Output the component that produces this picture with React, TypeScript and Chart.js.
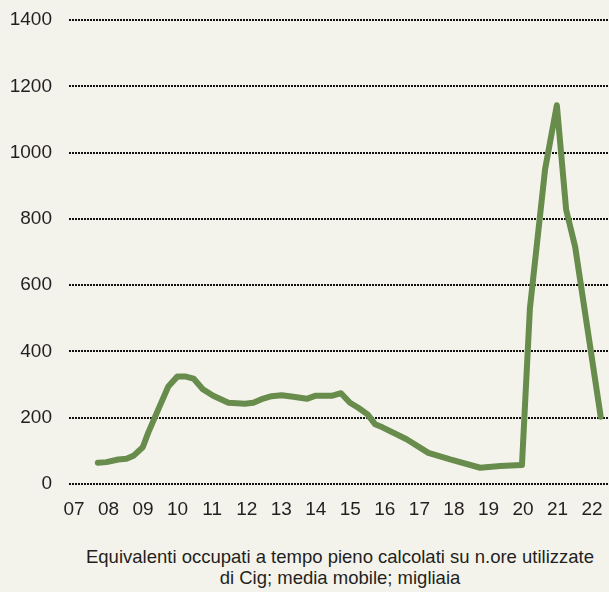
import React, { useEffect, useRef } from "react";
import { Chart, registerables } from "chart.js";

Chart.register(...registerables);

const tickYears = [2007, 2008, 2009, 2010, 2011, 2012, 2013, 2014, 2015, 2016, 2017, 2018, 2019, 2020, 2021, 2022];
const tickLabels = ["07", "08", "09", "10", "11", "12", "13", "14", "15", "16", "17", "18", "19", "20", "21", "22"];

const seriesX = [
  2007.69, 2007.94, 2008.28, 2008.52, 2008.72, 2008.99, 2009.15, 2009.39, 2009.73, 2009.99,
  2010.24, 2010.46, 2010.73, 2011.03, 2011.47, 2011.95, 2012.19, 2012.43, 2012.72, 2013.01,
  2013.35, 2013.74, 2013.98, 2014.46, 2014.73, 2014.99, 2015.23, 2015.5, 2015.72, 2015.93,
  2016.63, 2017.26, 2017.89, 2018.76, 2019.34, 2019.97, 2020.2, 2020.64, 2020.98, 2021.25,
  2021.51, 2022.25,
];
const seriesValues = [
  64, 66, 74, 76, 85, 111, 155, 213, 294, 324,
  324, 318, 286, 266, 245, 242, 245, 256, 265, 268,
  263, 257, 266, 266, 274, 245, 230, 210, 180, 171,
  135, 94, 74, 49, 54, 57, 530, 950, 1143, 827,
  716, 203,
];

const captionLines = [
  "Equivalenti occupati a tempo pieno calcolati su n.ore utilizzate",
  "di Cig; media mobile; migliaia",
];

const BG = "#f4f3eb";
const TEXT = "#231f20";
const FONT = "'Liberation Sans', Arial, sans-serif";

export default function App() {
  const ref = useRef<HTMLCanvasElement | null>(null);

  useEffect(() => {
    if (!ref.current) return;
    const chart = new Chart(ref.current, {
      type: "line",
      data: {
        datasets: [
          {
            data: seriesX.map((x, i) => ({ x, y: seriesValues[i] })),
            borderColor: "#678c4b",
            borderWidth: 6,
            pointRadius: 0,
            tension: 0,
            borderJoinStyle: "round",
            borderCapStyle: "round",
            fill: false,
          },
        ],
      },
      options: {
        animation: false,
        responsive: false,
        maintainAspectRatio: false,
        layout: { padding: { top: 20, left: 0, right: 0, bottom: 0 } },
        plugins: { legend: { display: false }, tooltip: { enabled: false } },
        scales: {
          x: {
            type: "linear",
            min: 2006.855,
            max: 2022.49,
            border: { display: false },
            grid: { display: false, drawTicks: false },
            afterBuildTicks: (axis: any) => {
              axis.ticks = tickYears.map((v) => ({ value: v }));
            },
            afterFit: (s: any) => {
              s.height = 46;
              s.paddingLeft = 0;
              s.paddingRight = 0;
            },
            ticks: {
              autoSkip: false,
              maxRotation: 0,
              padding: 14,
              color: TEXT,
              font: { family: FONT, size: 19 },
              callback: (v: any) => {
                const i = tickYears.indexOf(Number(v));
                return i >= 0 ? tickLabels[i] : "";
              },
            },
          },
          y: {
            min: 0,
            max: 1400,
            grid: {
              color: "#111",
              lineWidth: 2,
              drawTicks: false,
            },
            border: { display: false, dash: [2, 1] },
            afterFit: (s: any) => {
              s.width = 69;
              s.paddingTop = 0;
              s.paddingBottom = 0;
            },
            ticks: {
              stepSize: 200,
              padding: 17,
              color: TEXT,
              font: { family: FONT, size: 19 },
              callback: (v: any) => String(v),
            },
          },
        },
      } as any,
    });
    return () => chart.destroy();
  }, []);

  return (
    <div style={{ position: "fixed", left: 0, top: 0, width: 609, height: 592, background: BG, overflow: "hidden" }}>
      <canvas ref={ref} width={609} height={530} style={{ position: "absolute", left: 0, top: 0, width: 609, height: 530 }} />
      <div
        style={{
          position: "absolute",
          left: 70,
          width: 540,
          top: 546,
          textAlign: "center",
          fontFamily: FONT,
          fontSize: 18.5,
          lineHeight: "21px",
          color: TEXT,
        }}
      >
        {captionLines.map((l, i) => (
          <div key={i}>{l}</div>
        ))}
      </div>
    </div>
  );
}
